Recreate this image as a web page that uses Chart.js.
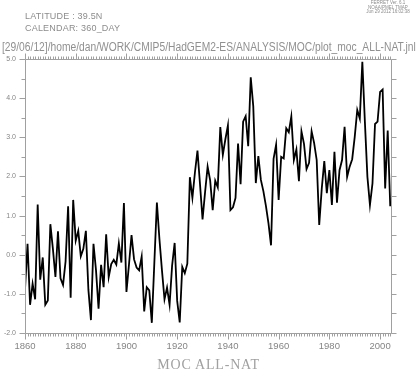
<!DOCTYPE html>
<html>
<head>
<meta charset="utf-8">
<script src="https://cdn.jsdelivr.net/npm/chart.js@4.4.1/dist/chart.umd.min.js"></script>
<style>
  html, body { margin: 0; padding: 0; background: #fff; }
  #wrap { position: relative; width: 417px; height: 374px; overflow: hidden; }
  #wrap canvas { position: absolute; left: 0; top: 0; }
  .txt { position: absolute; white-space: nowrap; color: #8c8c8c; font-family: 'Liberation Sans', Arial, sans-serif; }
  #ferret { left: 360px; top: 1px; width: 56px; text-align: center; font-size: 4.5px; line-height: 4.6px; }
  #lat { left: 25px; top: 11px; font-size: 9px; letter-spacing: 0.2px; }
  #cal { left: 25px; top: 23px; font-size: 9px; letter-spacing: 0.2px; }
  #path { left: 2px; top: 40px; font-size: 12px; transform-origin: 0 0; color: #909090; }
  #title { left: 0; width: 417px; top: 357px; text-align: center; font-family: 'Liberation Serif', 'Times New Roman', serif; font-size: 14px; letter-spacing: 0.8px; color: #a0a0a0; }
</style>
</head>
<body>
<div id="wrap">
  <canvas id="moc" width="417" height="374"></canvas>
  <div class="txt" id="ferret">FERRET Ver. 6.1<br>NOAA/PMEL TMAP<br>Jun 29 2012 16:02:38</div>
  <div class="txt" id="lat">LATITUDE : 39.5N</div>
  <div class="txt" id="cal">CALENDAR: 360_DAY</div>
  <div class="txt" id="path">[29/06/12]/home/dan/WORK/CMIP5/HadGEM2-ES/ANALYSIS/MOC/plot_moc_ALL-NAT.jnl</div>
  <div class="txt" id="title">MOC ALL-NAT</div>
</div>
<script>
// Valeurs annuelles de la MOC (Sv, anomalie), 1860 -> 2004
const FIRST_YEAR = 1860;
const mocValues = [
  -0.89,  0.28, -1.28, -0.74, -1.14,  1.28, -0.64, -0.07, -1.28, -1.17, // 1860
   0.78,  0.15, -0.57,  0.60, -0.60, -0.77, -0.17,  1.24, -1.10,  1.40, // 1870
   0.36,  0.61, -0.04,  0.15,  0.61, -0.90, -1.67,  0.28, -0.40, -1.38, // 1880
  -0.26, -0.83,  0.52, -0.57, -0.24, -0.13, -0.25,  0.29, -0.20,  1.32, // 1890
  -0.95, -0.25,  0.50, -0.12, -0.33, -0.40, -0.05, -1.45, -0.83, -0.91, // 1900
  -1.74, -0.20,  1.33,  0.40, -0.40, -1.14, -0.84, -1.28, -0.28,  0.30, // 1910
  -1.18, -1.73, -0.31, -0.47, -0.23,  1.98,  1.45,  2.10,  2.66,  1.80, // 1920
   0.90,  1.60,  2.25,  1.90,  1.14,  1.89,  1.72,  3.26,  2.55,  2.95, // 1930
   3.30,  1.14,  1.21,  1.45,  2.84,  1.80,  3.40,  3.54,  2.77,  4.53, // 1940
   3.79,  1.83,  2.52,  1.91,  1.62,  1.24,  0.80,  0.24,  2.45,  2.81, // 1950
   1.40,  2.50,  2.46,  3.23,  3.13,  3.53,  2.42,  2.69,  1.88,  3.15, // 1960
   2.83,  2.19,  2.35,  3.15,  2.85,  2.42,  0.76,  1.69,  2.39,  1.57, // 1970
   2.16,  1.27,  2.63,  1.33,  2.16,  2.42,  3.27,  1.99,  2.25,  2.44, // 1980
   3.01,  3.70,  3.48,  4.93,  3.40,  1.99,  1.27,  1.82,  3.34,  3.40, // 1990
   4.16,  4.22,  1.69,  3.17,  1.24                                    // 2000
];
const years = mocValues.map((v, i) => FIRST_YEAR + i);

const yearTicks = [1860, 1880, 1900, 1920, 1940, 1960, 1980, 2000];
const valueTicks = [-2, -1, 0, 1, 2, 3, 4, 5];

const AXIS_COLOR = '#a0a0a0';
const LABEL_COLOR = '#858585';

// cadre + petites graduations façon Ferret
const cadre = {
  id: 'cadre',
  afterDraw(chart) {
    const { ctx, chartArea: a, scales: { x, y } } = chart;
    const L = Math.round(a.left) + 0.5, R = Math.round(a.right) + 0.5;
    const T = Math.round(a.top) + 0.5, B = Math.round(a.bottom) + 0.5;
    ctx.save();
    ctx.strokeStyle = AXIS_COLOR;
    ctx.lineWidth = 1;
    ctx.beginPath();
    ctx.rect(L, T, R - L, B - T);

    // graduations annuelles haut / bas
    for (let yr = FIRST_YEAR; yr <= 2004; yr++) {
      const px = Math.round(x.getPixelForValue(yr)) + 0.5;
      const len = yr % 20 === 0 ? 6 : 3;
      ctx.moveTo(px, B); ctx.lineTo(px, B + len);
      ctx.moveTo(px, T); ctx.lineTo(px, T - len);
    }
    // graduations tous les 0.5 gauche / droite
    for (let v = -2; v <= 5; v += 0.5) {
      const py = Math.round(y.getPixelForValue(v)) + 0.5;
      const len = Number.isInteger(v) ? 6 : 4;
      ctx.moveTo(L, py); ctx.lineTo(L - len, py);
      ctx.moveTo(R, py); ctx.lineTo(R + 5, py);
    }
    ctx.stroke();
    ctx.restore();
  }
};

new Chart(document.getElementById('moc'), {
  type: 'line',
  data: {
    datasets: [{
      label: 'MOC ALL-NAT',
      data: years.map((yr, i) => ({ x: yr, y: mocValues[i] })),
      borderColor: '#000',
      borderWidth: 1.8,
      pointRadius: 0,
      tension: 0,
      fill: false,
    }]
  },
  options: {
    responsive: false,
    animation: false,
    devicePixelRatio: 1,
    layout: { padding: { top: 59, right: 26, left: 0, bottom: 0 } },
    plugins: {
      legend: { display: false },
      tooltip: { enabled: false }
    },
    scales: {
      x: {
        type: 'linear',
        min: 1860, max: 2004.3,
        border: { display: false },
        grid: { display: false, drawTicks: false },
        afterBuildTicks: s => { s.ticks = yearTicks.map(v => ({ value: v })); },
        afterFit: s => { s.height = 41; },
        ticks: {
          padding: 8,
          autoSkip: false,
          maxRotation: 0,
          color: LABEL_COLOR,
          font: { family: 'Liberation Sans', size: 9.5 },
          callback: v => String(v)
        }
      },
      y: {
        min: -2, max: 5,
        border: { display: false },
        grid: { display: false, drawTicks: false },
        afterBuildTicks: s => { s.ticks = valueTicks.map(v => ({ value: v })); },
        afterFit: s => { s.width = 25; },
        ticks: {
          padding: 9,
          color: LABEL_COLOR,
          font: { family: 'Liberation Sans', size: 7 },
          callback: v => v.toFixed(1)
        }
      }
    }
  },
  plugins: [cadre]
});

// le chemin du script occupe toute la largeur dans l'original
const chemin = document.getElementById('path');
const w = chemin.scrollWidth;
if (w > 0) chemin.style.transform = `scaleX(${414 / w})`;
</script>
</body>
</html>
